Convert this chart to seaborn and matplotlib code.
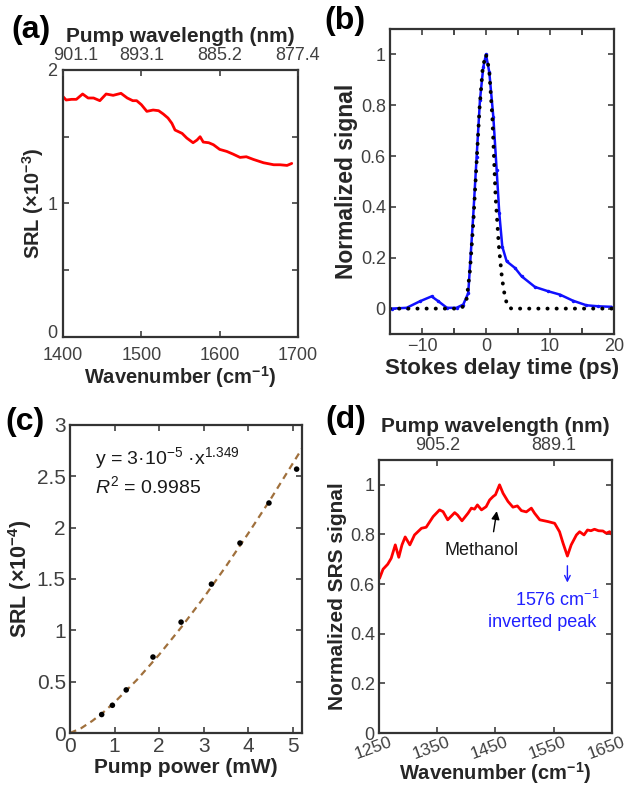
import numpy as np
import pandas as pd
import seaborn as sns
import matplotlib.pyplot as plt
import matplotlib.transforms as mtrans
from matplotlib.ticker import MultipleLocator

sns.set_style("ticks")
plt.rcParams['font.family'] = ['Liberation Sans', 'DejaVu Sans']
plt.rcParams['mathtext.fontset'] = 'custom'
plt.rcParams['mathtext.rm'] = 'Liberation Sans'
plt.rcParams['mathtext.it'] = 'Liberation Sans:italic'
plt.rcParams['mathtext.bf'] = 'Liberation Sans:bold'

# (a) SRL spectrum
a_wn = [1400, 1404, 1411, 1417, 1425, 1432, 1439, 1447, 1455, 1464, 1474, 1482, 1489,
        1494, 1500, 1507, 1515, 1522, 1528, 1534, 1539, 1543, 1552, 1558, 1566, 1571,
        1575, 1579, 1586, 1592, 1600, 1609, 1617, 1626, 1634, 1643, 1656, 1669, 1677,
        1686, 1692]
a_srl = [1.80, 1.775, 1.78, 1.78, 1.82, 1.79, 1.79, 1.77, 1.82, 1.81, 1.825, 1.79, 1.77,
         1.77, 1.74, 1.69, 1.70, 1.695, 1.67, 1.64, 1.60, 1.55, 1.525, 1.49, 1.455, 1.475,
         1.50, 1.46, 1.455, 1.44, 1.405, 1.39, 1.37, 1.345, 1.35, 1.33, 1.305, 1.29, 1.29,
         1.285, 1.30]
a_top_ticks = [1400, 1500, 1600, 1700]
a_top_labels = ["901.1", "893.1", "885.2", "877.4"]

# (b) delay scan
b_t = [-14.7, -12.4, -10.3, -8.5, -7.45, -6.1, -4.6, -3.55, -2.77, -2.0, -1.46, -0.94,
       -0.42, 0.0, 0.52, 1.15, 1.67, 2.08, 2.55, 3.23, 4.53, 5.57, 7.66, 9.74, 11.56,
       13.6, 15.7, 17.55, 19.6]
b_sig = [0.0, 0.003, 0.029, 0.048, 0.029, 0.003, 0.003, 0.016, 0.061, 0.362, 0.597,
         0.82, 0.95, 1.0, 0.93, 0.754, 0.545, 0.375, 0.244, 0.186, 0.16, 0.127, 0.085,
         0.068, 0.055, 0.031, 0.013, 0.009, 0.007]
b_fit_t = [-15, -4, -3.5, -3, -2.5, -2, -1.5, -1, -0.5, 0, 0.5, 1, 1.5, 2, 2.5, 3, 3.5, 4, 20]
b_fit = [0.0, 0.0, 0.01, 0.04, 0.15, 0.33, 0.56, 0.79, 0.95, 1.0, 0.94, 0.75, 0.44,
         0.25, 0.12, 0.04, 0.005, 0.0, 0.0]

# (c) power dependence
c_power = [0.71, 0.95, 1.26, 1.86, 2.49, 3.17, 3.81, 4.46, 5.08]
c_srl = [0.18, 0.27, 0.42, 0.74, 1.08, 1.45, 1.85, 2.24, 2.57]
c_fit_p = [0, 0.25, 0.5, 0.75, 1, 1.5, 2, 2.5, 3, 3.5, 4, 4.5, 5, 5.2]
c_fit = [0, 0.047, 0.118, 0.203, 0.30, 0.518, 0.764, 1.033, 1.32, 1.626, 1.947, 2.28,
         2.63, 2.77]

# (d) normalized SRS spectrum
d_wn = [1251, 1257, 1265, 1271, 1278, 1284, 1289.5, 1295, 1303, 1311, 1323, 1331, 1343,
        1354, 1360, 1368, 1380, 1385, 1392.5, 1403, 1408.6, 1414, 1419, 1426, 1434, 1440,
        1446, 1450, 1457, 1463, 1471.5, 1480, 1487.6, 1494.5, 1503, 1511.6, 1517, 1526,
        1540, 1551.6, 1560, 1566, 1573.5, 1580, 1589, 1594.5, 1602, 1608, 1614, 1620,
        1627, 1634.5, 1640, 1646, 1650]
d_sig = [0.623, 0.66, 0.68, 0.704, 0.758, 0.708, 0.758, 0.79, 0.758, 0.798, 0.825, 0.829,
         0.872, 0.899, 0.892, 0.859, 0.888, 0.878, 0.855, 0.886, 0.906, 0.902, 0.919,
         0.899, 0.912, 0.939, 0.953, 0.96, 1.0, 0.966, 0.933, 0.91, 0.915, 0.896, 0.891,
         0.906, 0.886, 0.859, 0.852, 0.845, 0.811, 0.765, 0.713, 0.758, 0.798, 0.811,
         0.798, 0.818, 0.815, 0.821, 0.815, 0.814, 0.805, 0.811, 0.80]
d_top_ticks = [1350, 1550]
d_top_labels = ["905.2", "889.1"]

TICK_C = "#404040"
LAB_C = "#262626"


def style(ax, ts, top=True):
    for s in ax.spines.values():
        s.set_color("#333333")
        s.set_linewidth(1.6)
    ax.tick_params(direction="in", top=top, right=True, length=4, width=1.2,
                   labelsize=ts, colors=TICK_C, pad=3)
    ax.tick_params(which="minor", direction="in", top=top, right=True, length=4,
                   width=1.2)


def top_axis(ax, ticks, labels):
    tw = ax.twiny()
    tw.set_xlim(ax.get_xlim())
    tw.set_xticks(ticks, labels=labels)
    tw.tick_params(direction="in", length=4, width=1.2, labelsize=13,
                   colors=TICK_C, pad=4)
    for s in tw.spines.values():
        s.set_visible(False)
    tw.set_xlabel("Pump wavelength (nm)", fontsize=15, fontweight="bold",
                  color=LAB_C, labelpad=4)
    return tw


fig = plt.figure(figsize=(6.29, 7.87), dpi=100)

# ---- (a)
ax = fig.add_axes([0.1002, 0.5718, 0.3736, 0.3393])
sns.lineplot(x=a_wn, y=a_srl, ax=ax, color="#ff0000", lw=2)
ax.set_xlim(1400, 1700)
ax.set_ylim(0, 2)
ax.set_xticks(a_top_ticks)
ax.set_yticks([0, 0.5, 1, 1.5, 2], labels=["0", "", "1", "", "2"])
style(ax, 13, top=False)
ax.tick_params(axis="x", pad=7)
ax.tick_params(axis="y", pad=4)
zero = ax.get_yticklabels()[0]
zero.set_transform(zero.get_transform()
                   + mtrans.ScaledTranslation(0, 0.05, fig.dpi_scale_trans))
ax.set_xlabel("Wavenumber (cm$^{\\mathbf{-1}}$)", fontsize=14.5, fontweight="bold",
              color=LAB_C, labelpad=0)
ax.set_ylabel("SRL (×10$^{\\mathbf{-3}}$)", fontsize=14.5, fontweight="bold",
              color=LAB_C, labelpad=1)
tw = top_axis(ax, a_top_ticks, a_top_labels)
first = tw.get_xticklabels()[0]
first.set_transform(first.get_transform()
                    + mtrans.ScaledTranslation(0.13, 0, fig.dpi_scale_trans))

# ---- (b)
ax = fig.add_axes([0.620, 0.5756, 0.3561, 0.3875])
sns.lineplot(x=b_t, y=b_sig, ax=ax, color="#1010ff", lw=1.8, marker="o",
             markersize=2.5, markeredgewidth=0)
sns.lineplot(x=b_fit_t, y=b_fit, ax=ax, color="black", lw=2.8,
             linestyle=(0, (0.05, 2.3)), dash_capstyle="round")
ax.set_xlim(-15, 20)
ax.set_ylim(-0.1, 1.1)
ax.set_xticks([-10, 0, 10, 20])
ax.xaxis.set_minor_locator(MultipleLocator(5))
ax.set_yticks([0, 0.2, 0.4, 0.6, 0.8, 1.0], labels=["0", "0.2", "0.4", "0.6", "0.8", "1"])
style(ax, 13)
ax.set_xlabel("Stokes delay time (ps)", fontsize=16, fontweight="bold", color=LAB_C,
              labelpad=2)
ax.set_ylabel("Normalized signal", fontsize=16.5, fontweight="bold", color=LAB_C,
              labelpad=2)

# ---- (c)
ax = fig.add_axes([0.1113, 0.0686, 0.3688, 0.3914])
sns.lineplot(x=c_fit_p, y=c_fit, ax=ax, color="#a0703c", lw=1.6, linestyle=(0, (3, 2.2)))
sns.scatterplot(x=c_power, y=c_srl, ax=ax, color="black", s=16, edgecolor="none", zorder=3)
ax.set_xlim(0, 5.2)
ax.set_ylim(0, 3)
ax.set_xticks([0, 1, 2, 3, 4, 5])
ax.set_yticks([0, 0.5, 1, 1.5, 2, 2.5, 3], labels=["0", "0.5", "1", "1.5", "2", "2.5", "3"])
style(ax, 15)
ax.set_xlabel("Pump power (mW)", fontsize=15, fontweight="bold", color=LAB_C, labelpad=1)
ax.set_ylabel("SRL (×10$^{\\mathbf{-4}}$)", fontsize=15.5, fontweight="bold",
              color=LAB_C, labelpad=2)
ax.text(0.56, 2.68, "y = 3·10$^{-5}$ ·x$^{1.349}$", fontsize=14, color="#1a1a1a",
        va="center")
ax.text(0.56, 2.40, "$R^2$ = 0.9985", fontsize=14, color="#1a1a1a", va="center")

# ---- (d)
ax = fig.add_axes([0.6025, 0.0686, 0.3704, 0.3469])
sns.lineplot(x=d_wn, y=d_sig, ax=ax, color="#ff0000", lw=2)
ax.set_xlim(1250, 1650)
ax.set_ylim(0, 1.1)
ax.set_xticks([1250, 1350, 1450, 1550, 1650])
ax.set_yticks([0, 0.2, 0.4, 0.6, 0.8, 1.0], labels=["0", "0.2", "0.4", "0.6", "0.8", "1"])
style(ax, 13, top=False)
ax.tick_params(axis="x", pad=1, labelsize=12.5)
shift = mtrans.ScaledTranslation(-0.06, 0, fig.dpi_scale_trans)
for lb in ax.get_xticklabels():
    lb.set_rotation(20)
    lb.set_transform(lb.get_transform() + shift)
ax.set_xlabel("Wavenumber (cm$^{\\mathbf{-1}}$)", fontsize=14.5, fontweight="bold",
              color=LAB_C, labelpad=-1)
ax.set_ylabel("Normalized SRS signal", fontsize=15, fontweight="bold", color=LAB_C,
              labelpad=2)
ax.annotate("", xy=(1453, 0.905), xytext=(1446, 0.80),
            arrowprops=dict(arrowstyle="-|>", color="black", lw=1.0, mutation_scale=12))
ax.text(1426, 0.737, "Methanol", fontsize=13, ha="center", va="center", color="#1a1a1a")
ax.annotate("", xy=(1573.5, 0.595), xytext=(1573.5, 0.685),
            arrowprops=dict(arrowstyle="->", color="#2020ff", lw=1.0, mutation_scale=10))
ax.text(1557, 0.536, "1576 cm$^{-1}$", fontsize=13, ha="center", va="center",
        color="#2020ff")
ax.text(1530, 0.444, "inverted peak", fontsize=13, ha="center", va="center",
        color="#2020ff")
top_axis(ax, d_top_ticks, d_top_labels)

# panel letters
for lab, xx, yy in [("(a)", 0.018, 1 - 30 / 787), ("(b)", 0.515, 1 - 21 / 787),
                    ("(c)", 0.008, 1 - 422 / 787), ("(d)", 0.518, 1 - 420 / 787)]:
    fig.text(xx, yy, lab, fontsize=23, fontweight="bold", color="black", va="center")

fig.savefig("out.png", dpi=100)
